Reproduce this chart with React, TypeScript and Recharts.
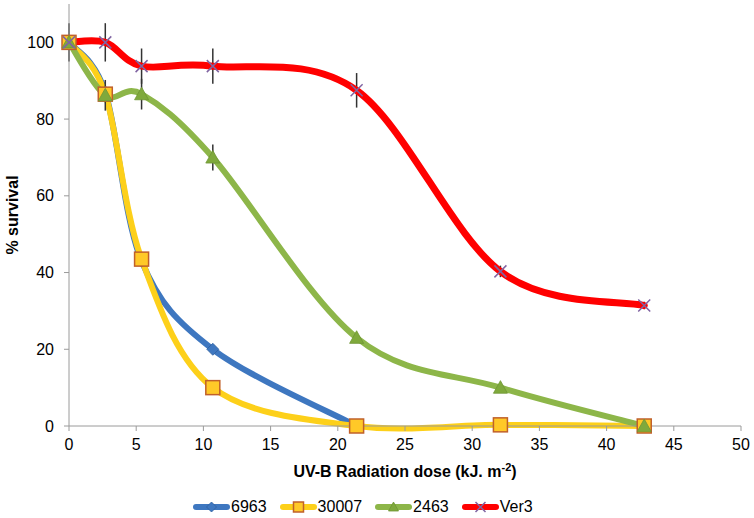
import React from 'react';
import { LineChart, Line, XAxis, YAxis, ErrorBar } from 'recharts';

// UV-B dose (kJ m-2) and % survival per strain
const doses = [0, 2.7, 5.4, 10.7, 21.4, 32.1, 42.8];
const s6963 = [100, 87, 43, 20, 0, null, null];
const s30007 = [100, 86.5, 43.5, 10, 0, 0.3, 0];
const s2463 = [100, 86.2, 86.5, 70, 23, 10, 0];
const sVer3 = [100, 100, 93.8, 93.8, 87.5, 40.3, 31.4];
const err2463 = [0, 4, 4, 3.4, 0, 0, 0];
const errVer3 = [5, 5, 4.6, 4.6, 4.5, 1.5, 1];

const xTicks = [0, 5, 10, 15, 20, 25, 30, 35, 40, 45, 50];
const yTicks = [0, 20, 40, 60, 80, 100];

const BLUE = '#3e77c0';
const YELLOW = '#fdd01a';
const GREEN = '#8db649';
const RED = '#ff0000';
const GRAY = '#9a9a9a';
const FONT = '"Liberation Sans", Arial, sans-serif';

const data = doses.map((d, i) => ({
    dose: d,
    s6963: s6963[i],
    s30007: s30007[i],
    s2463: s2463[i],
    sVer3: sVer3[i],
    e2463: err2463[i],
    eVer3: errVer3[i],
}));

// Excel-like smoothed line (Catmull-Rom as cubic bezier)
const excelCurve = (context: any) => {
    let pts: number[][] = [];
    return {
        areaStart() {},
        areaEnd() {},
        lineStart() {
            pts = [];
        },
        point(x: number, y: number) {
            pts.push([+x, +y]);
        },
        lineEnd() {
            if (!pts.length) return;
            context.moveTo(pts[0][0], pts[0][1]);
            for (let i = 0; i < pts.length - 1; i++) {
                const p0 = pts[i - 1] || pts[i];
                const p1 = pts[i];
                const p2 = pts[i + 1];
                const p3 = pts[i + 2] || p2;
                context.bezierCurveTo(
                    p1[0] + (p2[0] - p0[0]) / 6,
                    p1[1] + (p2[1] - p0[1]) / 6,
                    p2[0] - (p3[0] - p1[0]) / 6,
                    p2[1] - (p3[1] - p1[1]) / 6,
                    p2[0],
                    p2[1]
                );
            }
        },
    };
};

const Diamond = ({ cx, cy, s = 6 }: any) => (
    <path d={`M${cx},${cy - s}L${cx + s},${cy}L${cx},${cy + s}L${cx - s},${cy}Z`} fill={BLUE} stroke="#2f5f9e" strokeWidth={0.8} />
);
const Square = ({ cx, cy, s = 7 }: any) => (
    <rect x={cx - s} y={cy - s} width={2 * s} height={2 * s} fill="#ffc928" stroke="#c0602a" strokeWidth={1.5} />
);
const Triangle = ({ cx, cy, s = 7 }: any) => (
    <path d={`M${cx},${cy - s}L${cx + s},${cy + s * 0.8}L${cx - s},${cy + s * 0.8}Z`} fill="#7fa93c" stroke="#6e9533" strokeWidth={0.8} />
);
const Cross = ({ cx, cy, s = 6 }: any) => (
    <path d={`M${cx - s},${cy - s}L${cx + s},${cy + s}M${cx - s},${cy + s}L${cx + s},${cy - s}`} stroke="#8064a2" strokeWidth={1.5} fill="none" />
);

const series = [
    { key: 's6963', name: '6963', color: BLUE, Marker: Diamond, err: '', width: 6 },
    { key: 's30007', name: '30007', color: YELLOW, Marker: Square, err: '', width: 6 },
    { key: 's2463', name: '2463', color: GREEN, Marker: Triangle, err: 'e2463', width: 6 },
    { key: 'sVer3', name: 'Ver3', color: RED, Marker: Cross, err: 'eVer3', width: 7 },
];

const XLabel = ({ viewBox }: any) => (
    <text x={viewBox.x + viewBox.width / 2} y={viewBox.y + 51} textAnchor="middle" fontFamily={FONT} fontSize={16} fontWeight="bold" fill="#000">
        UV-B Radiation dose (kJ. m
        <tspan fontSize={11} dy={-6}>-2</tspan>
        <tspan dy={6}>)</tspan>
    </text>
);

const YLabel = ({ viewBox }: any) => {
    const x = 18;
    const y = viewBox.y + viewBox.height / 2;
    return (
        <text x={x} y={y} transform={`rotate(-90, ${x}, ${y})`} textAnchor="middle" fontFamily={FONT} fontSize={16} fontWeight="bold" fill="#000">
            % survival
        </text>
    );
};

const tickStyle = { fill: '#000', fontSize: 16, fontFamily: FONT };

export default function App() {
    return (
        <div style={{ position: 'absolute', left: 0, top: 0, width: 754, height: 518, background: '#fff' }}>
            <LineChart width={754} height={518} data={data} margin={{ top: 4, right: 13, bottom: 0, left: 0 }}>
                <XAxis
                    dataKey="dose"
                    type="number"
                    domain={[0, 50]}
                    ticks={xTicks}
                    tick={tickStyle}
                    tickSize={5}
                    tickMargin={8}
                    height={92}
                    stroke={GRAY}
                    label={<XLabel />}
                />
                <XAxis xAxisId="top" orientation="top" type="number" domain={[0, 50]} tick={false} tickLine={false} height={0} stroke={GRAY} />
                <YAxis
                    type="number"
                    domain={[0, 110]}
                    ticks={yTicks}
                    tick={tickStyle}
                    tickSize={5}
                    tickMargin={10}
                    width={69}
                    stroke={GRAY}
                    label={<YLabel />}
                />
                <YAxis yAxisId="right" orientation="right" type="number" domain={[0, 110]} tick={false} tickLine={false} width={0} stroke={GRAY} />
                {series.map((s) => (
                    <Line
                        key={s.key}
                        dataKey={s.key}
                        name={s.name}
                        type={excelCurve as any}
                        stroke={s.color}
                        strokeWidth={s.width}
                        strokeLinecap="round"
                        isAnimationActive={false}
                        dot={(p: any) =>
                            p.value == null ? <g key={`${s.key}-${p.index}`} /> : <s.Marker key={`${s.key}-${p.index}`} cx={p.cx} cy={p.cy} />
                        }
                        activeDot={false}
                    >
                        {s.err ? (
                            <ErrorBar dataKey={s.err} width={0} stroke="#333" strokeWidth={1.5} direction="y" isAnimationActive={false} />
                        ) : null}
                    </Line>
                ))}
            </LineChart>
            <div
                style={{
                    position: 'absolute',
                    left: 193,
                    top: 498,
                    height: 18,
                    display: 'flex',
                    alignItems: 'center',
                    fontFamily: FONT,
                    fontSize: 16,
                    color: '#000',
                }}
            >
                {series.map((s) => (
                    <div key={s.key} style={{ display: 'flex', alignItems: 'center', marginRight: 13 }}>
                        <svg width={37} height={18}>
                            <line x1={3} y1={9} x2={34} y2={9} stroke={s.color} strokeWidth={6} strokeLinecap="round" />
                            <s.Marker cx={18.5} cy={9} s={5} />
                        </svg>
                        <span style={{ marginLeft: 1 }}>{s.name}</span>
                    </div>
                ))}
            </div>
        </div>
    );
}
